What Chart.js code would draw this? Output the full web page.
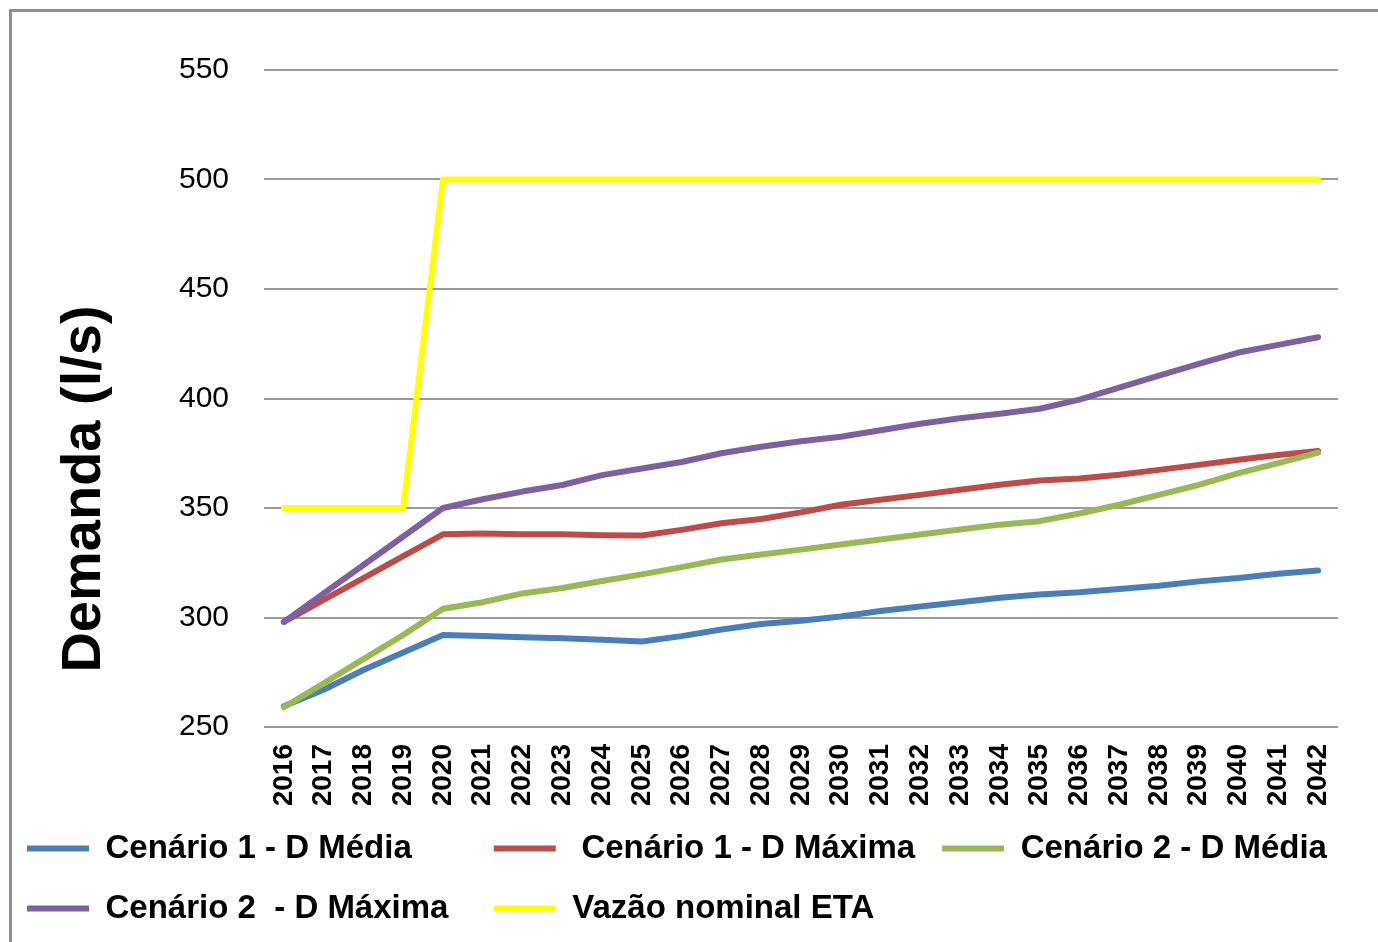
<!DOCTYPE html>
<html>
<head>
<meta charset="utf-8">
<script src="https://cdn.jsdelivr.net/npm/chart.js@4.4.1/dist/chart.umd.min.js"></script>
<style>
  html, body { margin: 0; padding: 0; background: #fff; overflow: hidden; }
  #wrap { position: relative; width: 1378px; height: 942px; }
  #moldura { position: absolute; left: 9px; top: 9px; width: 1400px; height: 1000px; border: 3px solid #8f8f8f; pointer-events: none; }
</style>
</head>
<body>
<div id="wrap">
  <canvas id="grafico" width="1378" height="942"></canvas>
  <div id="moldura"></div>
</div>
<script>
// anos do horizonte de projeto
const anos = ['2016', '2017', '2018', '2019', '2020', '2021', '2022', '2023', '2024', '2025',
  '2026', '2027', '2028', '2029', '2030', '2031', '2032', '2033', '2034', '2035',
  '2036', '2037', '2038', '2039', '2040', '2041', '2042'];

// demandas (l/s)
const cen1Media = [259.5, 267, 276, 284, 292, 291.5, 291, 290.5, 289.8, 289,
  291.5, 294.5, 297, 298.5, 300.5, 303, 305, 307, 309, 310.5,
  311.5, 313, 314.5, 316.5, 318, 320, 321.5];
const cen1Maxima = [298, 308, 318, 328, 338, 338.3, 338, 338, 337.6, 337.4,
  340, 343, 345, 348, 351.5, 353.8, 356, 358.3, 360.6, 362.6,
  363.5, 365.2, 367.4, 369.7, 372, 374.2, 376];
const cen2Media = [259, 270, 281, 292, 304, 307, 311, 313.5, 316.7, 319.7,
  323, 326.5, 328.8, 331, 333.3, 335.6, 337.9, 340.2, 342.4, 344,
  347.5, 351.5, 356, 360.6, 365.9, 370.5, 375.3];
const cen2Maxima = [298, 311, 324, 337, 350, 354, 357.5, 360.5, 365, 368,
  371, 375, 378, 380.5, 382.5, 385.5, 388.5, 391, 393, 395.3,
  399.5, 405, 410.5, 415.8, 421, 424.5, 428];
const vazaoETA = [350, 350, 350, 350, 500, 500, 500, 500, 500, 500,
  500, 500, 500, 500, 500, 500, 500, 500, 500, 500,
  500, 500, 500, 500, 500, 500, 500];

const nomes = ['Cenário 1 - D Média', ' Cenário 1 - D Máxima', 'Cenário 2 - D Média',
  'Cenário 2  - D Máxima', 'Vazão nominal ETA'];
const cores = ['#4a7ebb', '#be4b48', '#98b954', '#7d60a0', '#ffff00'];
const series = [cen1Media, cen1Maxima, cen2Media, cen2Maxima, vazaoETA];

// espaços extras para alinhar a legenda em colunas, como no Excel
const espacosLegenda = [6, 0, 0, 2, 0];

const fonte = '"Liberation Sans", Arial, sans-serif';

const tituloEixoY = {
  id: 'tituloEixoY',
  afterDraw(chart) {
    const ctx = chart.ctx;
    ctx.save();
    ctx.translate(100, 489);
    ctx.rotate(-Math.PI / 2);
    ctx.font = 'bold 56px ' + fonte;
    ctx.fillStyle = '#000';
    ctx.textAlign = 'center';
    ctx.textBaseline = 'alphabetic';
    ctx.fillText('Demanda (l/s)', 0, 0);
    ctx.restore();
  }
};

const datasets = series.map((dados, i) => ({
  label: nomes[i],
  data: dados,
  borderColor: cores[i],
  backgroundColor: cores[i],
  borderWidth: 6,
  borderCapStyle: 'round',
  borderJoinStyle: 'round',
  pointRadius: 0,
  tension: 0,
  fill: false,
  order: series.length - i
}));

new Chart(document.getElementById('grafico').getContext('2d'), {
  type: 'line',
  data: { labels: anos, datasets: datasets },
  options: {
    responsive: false,
    animation: false,
    devicePixelRatio: 1,
    layout: { padding: { top: 70, left: 0, right: 0, bottom: 7 } },
    plugins: {
      tooltip: { enabled: false },
      legend: {
        position: 'bottom',
        align: 'start',
        labels: {
          usePointStyle: true,
          pointStyle: 'line',
          pointStyleWidth: 62,
          padding: 27,
          color: '#000',
          font: { family: fonte, size: 33, weight: 'bold' },
          sort: (a, b) => a.datasetIndex - b.datasetIndex,
          generateLabels(chart) {
            const itens = Chart.defaults.plugins.legend.labels.generateLabels(chart);
            itens.forEach(it => { it.text = it.text + ' '.repeat(espacosLegenda[it.datasetIndex]); });
            return itens;
          }
        }
      }
    },
    scales: {
      x: {
        offset: true,
        grid: { display: false },
        border: { display: false },
        ticks: {
          autoSkip: false,
          minRotation: 90,
          maxRotation: 90,
          padding: 9,
          color: '#000',
          font: { family: fonte, size: 28, weight: 'bold' }
        },
        afterFit(s) { s.height = 78; }
      },
      y: {
        min: 250,
        max: 550,
        ticks: {
          stepSize: 50,
          padding: 35,
          color: '#000',
          font: { family: fonte, size: 30 }
        },
        grid: { color: '#9a9a9a', lineWidth: 2, drawTicks: false },
        border: { display: false },
        afterFit(s) { s.width = 264; }
      },
      direita: {
        position: 'right',
        grid: { display: false },
        border: { display: false },
        ticks: { display: false },
        afterFit(s) { s.width = 40; }
      }
    }
  },
  plugins: [tituloEixoY]
});
</script>
</body>
</html>
